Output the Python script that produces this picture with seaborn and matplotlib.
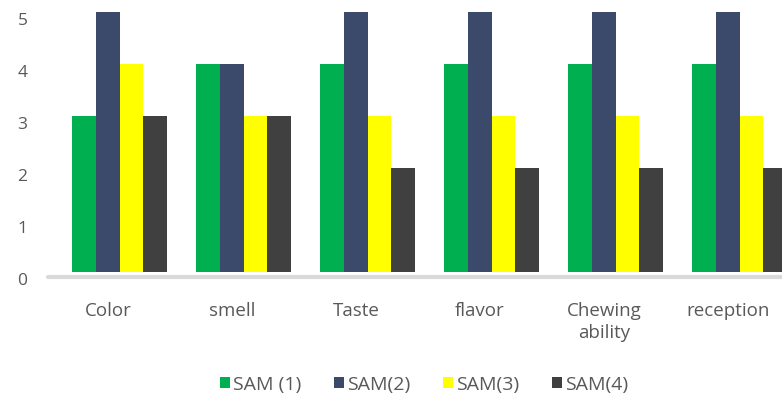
import matplotlib
matplotlib.use("Agg")
import matplotlib.pyplot as plt
import seaborn as sns
import pandas as pd
from matplotlib.patches import Patch
from matplotlib.transforms import ScaledTranslation

categories = ["Color", "smell", "Taste", "flavor", "Chewing\nability", "reception"]
series = ["SAM (1)", "SAM(2)", "SAM(3)", "SAM(4)"]
sam1 = [3, 4, 4, 4, 4, 4]
sam2 = [5, 4, 5, 5, 5, 5]
sam3 = [4, 3, 3, 3, 3, 3]
sam4 = [3, 3, 2, 2, 2, 2]
colors = ["#00B050", "#3B4A6B", "#FFFF00", "#404040"]

rows = []
for s, vals in zip(series, [sam1, sam2, sam3, sam4]):
    for c, v in zip(categories, vals):
        rows.append({"cat": c, "series": s, "value": v})
df = pd.DataFrame(rows)

sns.set_style("white")
plt.rcParams["font.family"] = ["Open Sans", "DejaVu Sans"]

W, H = 782, 402
fig = plt.figure(figsize=(W / 100, H / 100), dpi=100)
ax_l, ax_r, ax_t, ax_b = 40, 782, 8, 285
ax = fig.add_axes([ax_l / W, 1 - ax_b / H, (ax_r - ax_l) / W, (ax_b - ax_t) / H])

sns.barplot(data=df, x="cat", y="value", hue="series", palette=colors,
            width=0.766, saturation=1, ax=ax, legend=False, edgecolor="none")

cx0, step = 119.5, 124.0
zero_px, unit = 273.0, 52.0
ax.set_xlim((ax_l - cx0) / step, (ax_r - cx0) / step)
ax.set_ylim((zero_px - ax_b) / unit, (zero_px - ax_t) / unit)
ax.set_yticks([0, 1, 2, 3, 4, 5])
ax.set_xlabel("")
ax.set_ylabel("")
for sp in ax.spines.values():
    sp.set_visible(False)
ax.axhline((zero_px - 278) / unit, xmin=(48 - ax_l) / (ax_r - ax_l), xmax=1,
           color="#D9D9D9", lw=3, zorder=0)
ax.tick_params(axis="both", length=0, colors="#595959")
ax.tick_params(axis="y", pad=9, labelsize=12.5)
ax.tick_params(axis="x", pad=12, labelsize=13.5)

for lab in ax.get_xticklabels():
    lab.set_transform(lab.get_transform() + ScaledTranslation(-11.5 / 100, 0, fig.dpi_scale_trans))
    lab.set_linespacing(1.3)
for lab in ax.get_yticklabels():
    lab.set_transform(lab.get_transform() + ScaledTranslation(0, -6 / 100, fig.dpi_scale_trans))

handles = [Patch(facecolor=c, edgecolor="none") for c in colors]
fig.legend(handles, series, loc="center", bbox_to_anchor=(424 / W, 1 - 385 / H),
           ncol=4, frameon=False, fontsize=14, handlelength=0.5, handleheight=0.5,
           handletextpad=0.15, columnspacing=1.7, labelcolor="#595959")

fig.savefig("out.png", dpi=100)
